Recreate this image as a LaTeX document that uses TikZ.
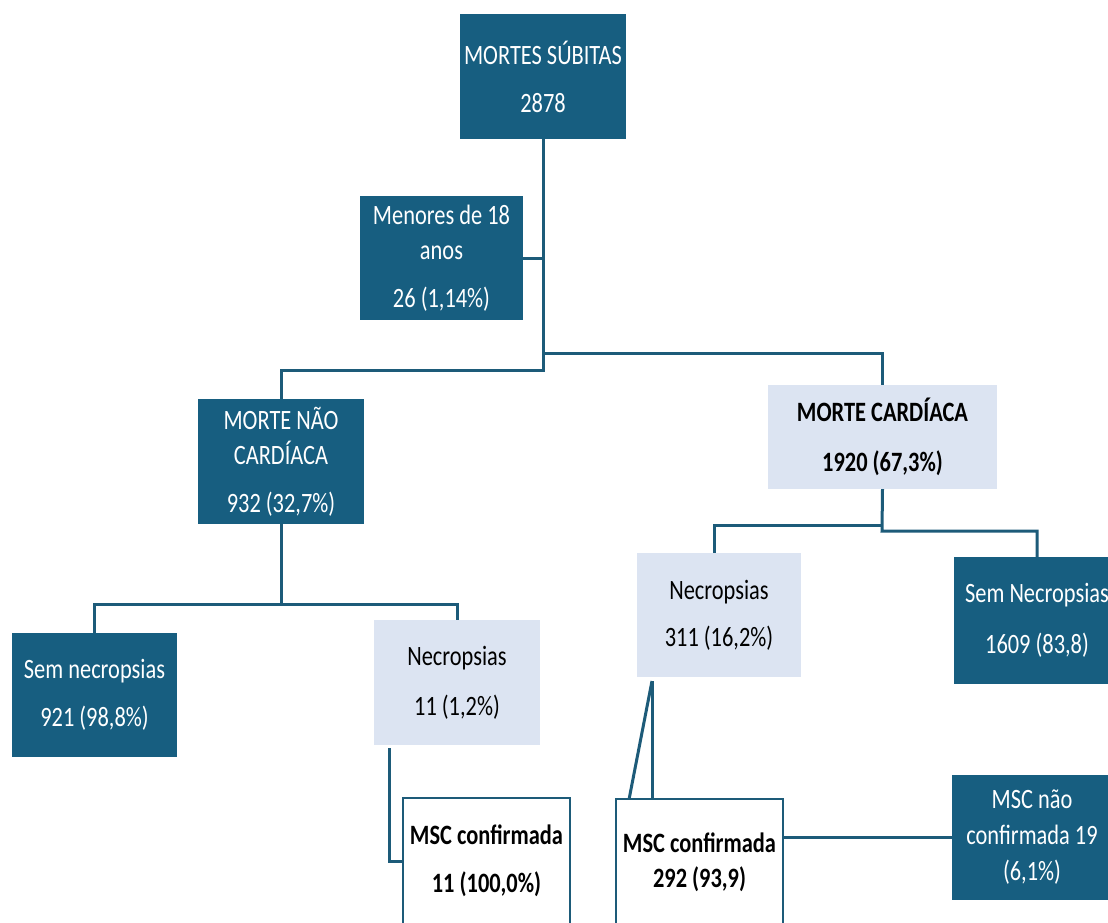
\documentclass[tikz,border=0pt]{standalone}
\usepackage{fontspec}
\setmainfont{Carlito}[FakeStretch=0.8]
\usepackage{tikz}
\definecolor{petrol}{HTML}{175E80}
\definecolor{paleblue}{HTML}{DCE4F2}
\definecolor{linkcol}{HTML}{1D5B79}

\begin{document}
\begin{tikzpicture}[x=1pt,y=-1pt,
  darkbox/.style={fill=petrol,text=white,inner sep=0pt,align=center,
    minimum width=166pt,minimum height=125pt,font=\fontsize{28}{35}\selectfont},
  palebox/.style={fill=paleblue,text=black,inner sep=0pt,align=center,
    minimum width=166pt,minimum height=125pt,font=\fontsize{28}{35}\selectfont},
  linebox/.style={draw=linkcol,line width=2.5pt,fill=white,inner sep=0pt,align=center,
    minimum width=166pt,minimum height=126pt,font=\bfseries\fontsize{28}{35}\selectfont},
  link/.style={draw=linkcol,line width=3pt}]
\useasboundingbox (0,0) rectangle (1108,923);

% top level
\node[darkbox] (ms) at (543,76.5) {MORTES SÚBITAS\\[13pt]2878};
\node[darkbox,minimum width=163pt,minimum height=124pt] (men) at (441.5,258) {Menores de 18\\anos\\[13pt]26 (1,14\%)};

% second level
\node[darkbox] (mnc) at (281,461.5) {MORTE NÃO\\CARDÍACA\\[13pt]932 (32,7\%)};
\node[palebox,font=\bfseries\fontsize{28}{35}\selectfont,minimum width=229pt,minimum height=104pt] (mc) at (882.5,437) {MORTE CARDÍACA\\[15pt]1920 (67,3\%)};

% third level
\node[darkbox,minimum width=165pt,minimum height=124pt] (semL) at (94.5,695) {Sem necropsias\\[13pt]921 (98,8\%)};
\node[palebox] (necL) at (457,682.5) {Necropsias\\[15pt]11 (1,2\%)};
\node[palebox,minimum width=164pt,minimum height=124pt] (necR) at (719,615) {Necropsias\\[12pt]311 (16,2\%)};
\node[darkbox,minimum height=127pt] (semR) at (1037,620.5) {Sem Necropsias\\[16pt]1609 (83,8)};

% bottom
\node[linebox,minimum width=167pt] (mscL) at (486.5,861) {MSC confirmada\\[13pt]11 (100,0\%)};
\node[linebox,minimum width=167pt] (mscR) at (699.5,862) {MSC confirmada\\292 (93,9)};
\node[darkbox,minimum width=160pt,minimum height=125pt,font=\fontsize{28}{36}\selectfont] (mscN) at (1032,837.5) {MSC não\\confirmada 19\\(6,1\%)};

% connectors
\draw[link] (ms.south) -- (543,370) -| (mnc.north);
\draw[link] (543,353) -| (mc.north);
\draw[link] (men.east) -- (543,258);
\draw[link] (mnc.south) -- (281,604) -| (semL.north);
\draw[link] (281,604) -| (necL.north);
\draw[link] (mc.south) -- (882,531) -| (semR.north);
\draw[link] (882,525) -| (714,553);
\draw[link] (389,748) |- (mscL.west);
\draw[link] (652,681) -- (629,799.5);
\draw[link] (652,681) -- (652,799.5);
\draw[link] (mscR.east |- mscN.west) -- (mscN.west);
\end{tikzpicture}
\end{document}
